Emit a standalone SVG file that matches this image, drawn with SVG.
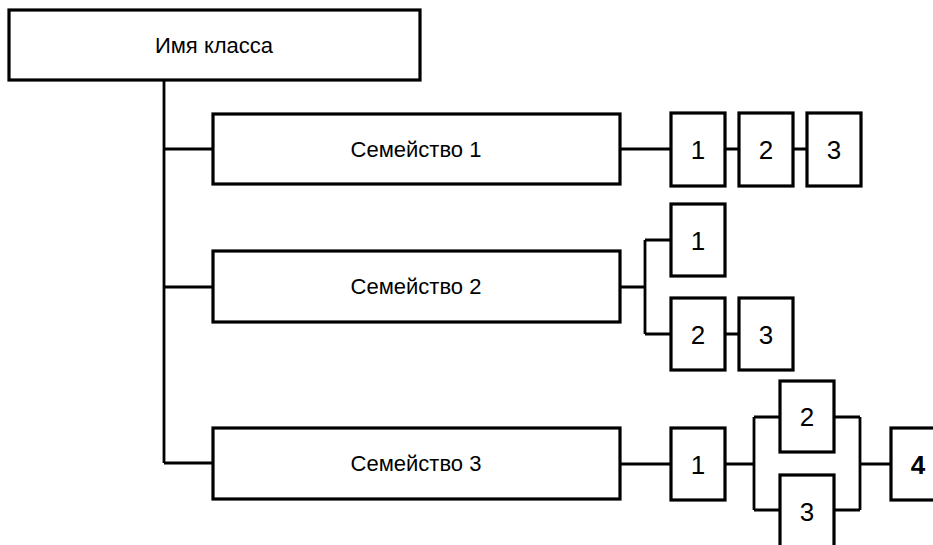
<svg xmlns="http://www.w3.org/2000/svg" width="933" height="545" viewBox="0 0 933 545">
<style>
.box{fill:#fff;stroke:#000;stroke-width:3.2}
.ln{fill:none;stroke:#000;stroke-width:2.8}
text{font-family:"Liberation Sans",Arial,sans-serif;font-size:22px;fill:#000;text-anchor:middle}
.d{font-size:26px}
.b{font-weight:bold}
</style>
<rect width="933" height="545" fill="#fff"/>
<g id="connectors">
<path class="ln" d="M164 80V463M164 149H213M164 287H213M164 463H213"/>
<path class="ln" d="M620 149H671M725 149H739M793 149H807"/>
<path class="ln" d="M620 287H645M645 240V334M645 240H671M645 334H671M725 334H739"/>
<path class="ln" d="M620 464H671M725 464H754M754 417V510M754 417H780M754 510H780M834 417H860M834 510H860M860 417V510M860 464H891"/>
</g>
<g id="class"><rect class="box" x="9" y="10" width="411" height="70"/><text x="214" y="53">Имя класса</text></g>
<g id="fam1"><rect class="box" x="213" y="114" width="407" height="70"/><text x="416" y="157">Семейство 1</text></g>
<g id="fam2"><rect class="box" x="213" y="251" width="407" height="71"/><text x="416" y="294">Семейство 2</text></g>
<g id="fam3"><rect class="box" x="213" y="428" width="407" height="71"/><text x="416" y="471">Семейство 3</text></g>
<g id="f1n1"><rect class="box" x="671" y="113" width="54" height="73"/><text class="d" x="698" y="159">1</text></g>
<g id="f1n2"><rect class="box" x="739" y="113" width="54" height="73"/><text class="d" x="766" y="159">2</text></g>
<g id="f1n3"><rect class="box" x="807" y="113" width="54" height="73"/><text class="d" x="834" y="159">3</text></g>
<g id="f2n1"><rect class="box" x="671" y="204" width="54" height="72"/><text class="d" x="698" y="250">1</text></g>
<g id="f2n2"><rect class="box" x="671" y="298" width="54" height="72"/><text class="d" x="698" y="344">2</text></g>
<g id="f2n3"><rect class="box" x="739" y="298" width="54" height="72"/><text class="d" x="766" y="344">3</text></g>
<g id="f3n1"><rect class="box" x="671" y="428" width="54" height="72"/><text class="d" x="698" y="474">1</text></g>
<g id="f3n2"><rect class="box" x="780" y="381" width="54" height="71"/><text class="d" x="807" y="426">2</text></g>
<g id="f3n3"><rect class="box" x="780" y="475" width="54" height="72"/><text class="d" x="807" y="521">3</text></g>
<g id="f3n4"><rect class="box" x="891" y="428" width="54" height="72"/><text class="d b" x="918" y="474">4</text></g>
</svg>
